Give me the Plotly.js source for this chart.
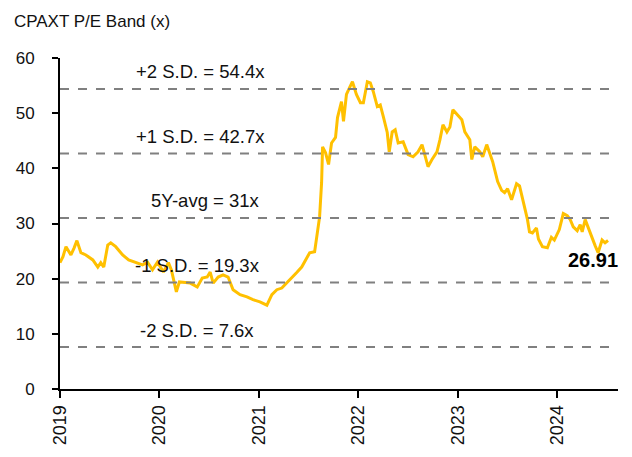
<!DOCTYPE html>
<html>
<head>
<meta charset="utf-8">
<script src="https://cdn.plot.ly/plotly-3.0.1.min.js"></script>
<style>html,body{margin:0;padding:0;background:#fff;}#chart{width:632px;height:457px;}</style>
</head>
<body>
<div id="chart"></div>
<script>
// Time axis in decimal years (2019.00 = Jan 2019)
const years = [2019.00,2019.03,2019.06,2019.11,2019.14,2019.17,2019.21,2019.26,2019.33,2019.38,2019.41,2019.44,2019.48,2019.51,2019.56,2019.63,2019.69,2019.76,2019.83,2019.88,2019.93,2019.98,
2020.04,2020.09,2020.12,2020.17,2020.20,2020.26,2020.31,2020.38,2020.43,2020.48,2020.51,2020.54,2020.59,2020.64,2020.69,2020.74,2020.81,2020.88,2020.94,
2021.01,2021.08,2021.13,2021.18,2021.23,2021.28,2021.33,2021.38,2021.43,2021.48,2021.51,2021.56,2021.59,2021.61,2021.63,2021.64,2021.67,2021.70,2021.73,2021.77,2021.79,2021.83,2021.85,2021.88,2021.91,2021.94,2021.98,
2022.02,2022.05,2022.09,2022.12,2022.15,2022.19,2022.22,2022.25,2022.29,2022.31,2022.34,2022.37,2022.40,2022.45,2022.50,2022.55,2022.60,2022.64,2022.67,2022.70,2022.74,2022.79,2022.82,2022.85,2022.89,2022.92,2022.95,
2023.00,2023.04,2023.07,2023.12,2023.14,2023.17,2023.22,2023.25,2023.29,2023.32,2023.35,2023.40,2023.44,2023.47,2023.50,2023.54,2023.59,2023.62,2023.67,2023.70,2023.72,2023.75,2023.79,2023.81,2023.85,2023.90,2023.94,2023.97,
2024.02,2024.06,2024.10,2024.13,2024.16,2024.20,2024.23,2024.25,2024.28,2024.33,2024.38,2024.41,2024.45,2024.48,2024.51];

const peValues = [22.9,24.0,25.8,24.3,25.5,26.9,24.7,24.3,23.4,22.1,22.9,22.1,26.1,26.5,25.8,24.3,23.4,22.9,22.5,23.0,21.6,23.0,
21.2,22.9,21.6,17.6,19.4,19.3,19.2,18.5,20.1,20.3,21.2,19.2,20.3,20.7,20.3,18.0,17.1,16.7,16.2,
15.8,15.2,17.1,18.0,18.3,19.2,20.1,21.1,22.1,23.8,24.7,24.9,28.9,31.2,37.4,43.9,42.8,40.7,44.6,45.6,49.2,52.1,48.5,53.4,54.6,55.7,53.4,
51.9,51.9,55.7,55.5,53.9,51.2,51.5,49.4,46.5,43.0,46.6,47.0,44.6,44.8,42.5,42.1,43.0,44.3,42.5,40.3,41.6,43.0,45.2,47.9,46.6,47.5,50.6,
49.7,48.8,46.6,45.2,41.6,43.9,43.0,42.1,44.3,42.8,41.2,37.6,36.0,35.6,36.3,34.3,37.2,36.8,33.0,30.7,28.5,28.3,29.2,27.2,25.8,25.6,27.5,27.0,
28.9,31.8,31.4,30.7,29.4,28.7,29.8,28.5,30.7,28.2,26.0,24.7,27.0,26.5,26.91];

const bandValues = [54.4, 42.7, 31, 19.3, 7.6];
const bandLabels = ["+2 S.D. = 54.4x", "+1 S.D. = 42.7x", "5Y-avg = 31x", "-1 S.D. = 19.3x", "-2 S.D. = 7.6x"];
const tickYears = [2019, 2020, 2021, 2022, 2023, 2024];
const tickLabels = ["2019", "2020", "2021", "2022", "2023", "2024"];
const lastLabel = "26.91";

const font = '"Liberation Sans", Arial, sans-serif';

const trace = {
  x: years, y: peValues, type: 'scatter', mode: 'lines',
  line: {color: '#FFC000', width: 3}, hoverinfo: 'skip', showlegend: false
};

const bandLabelX = [2020.41, 2020.41, 2020.46, 2020.38, 2020.38];
const shapes = bandValues.map(v => ({
  type: 'line', xref: 'x', yref: 'y', x0: 2019, x1: 2024.55, y0: v, y1: v,
  line: {color: '#808080', width: 2, dash: 'dash'}
}));
const annotations = bandValues.map((v, i) => ({
  x: bandLabelX[i], y: v, xref: 'x', yref: 'y', text: bandLabels[i],
  showarrow: false, yshift: 17, font: {family: font, size: 18.5, color: '#111'}
}));
annotations.push({
  x: years[years.length - 1], y: peValues[peValues.length - 1], xref: 'x', yref: 'y',
  text: '<b>' + lastLabel + '</b>', showarrow: false, xshift: -15, yshift: -19,
  font: {family: font, size: 20, color: '#000'}
});

const layout = {
  width: 632, height: 457,
  margin: {l: 60, r: 14, t: 58, b: 68},
  paper_bgcolor: '#fff', plot_bgcolor: '#fff',
  title: {text: 'CPAXT P/E Band (x)', x: 0.022, xanchor: 'left', y: 0.955, yanchor: 'middle',
          font: {family: font, size: 17, color: '#111'}},
  xaxis: {
    range: [2019, 2024.61], tickmode: 'array', tickvals: tickYears, ticktext: tickLabels,
    tickangle: -90, ticks: 'outside', ticklen: 7, tickwidth: 2, tickcolor: '#000',
    showline: true, linecolor: '#000', linewidth: 2, showgrid: false, zeroline: false,
    tickfont: {family: font, size: 18, color: '#111'}, fixedrange: true
  },
  yaxis: {
    range: [0, 60], tickvals: [0, 10, 20, 30, 40, 50, 60], ticks: 'outside', ticklen: 6, tickwidth: 2,
    tickcolor: '#000', showline: true, linecolor: '#000', linewidth: 2, showgrid: false, zeroline: false,
    tickfont: {family: font, size: 17, color: '#111'}, ticklabelstandoff: 14, fixedrange: true
  },
  shapes: shapes,
  annotations: annotations
};

Plotly.newPlot('chart', [trace], layout, {displayModeBar: false, staticPlot: true});
</script>
</body>
</html>
